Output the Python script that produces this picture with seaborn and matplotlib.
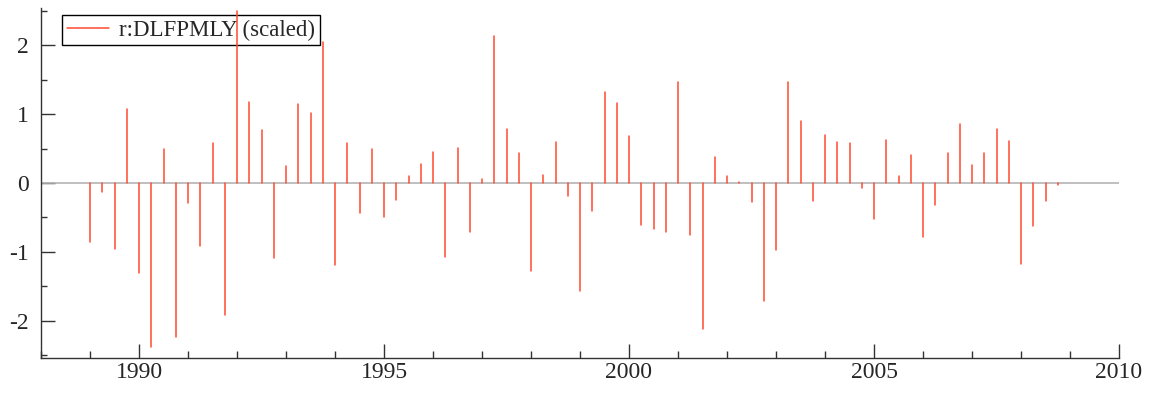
import numpy as np
import pandas as pd
import matplotlib
matplotlib.use("Agg")
import matplotlib.pyplot as plt
from matplotlib.lines import Line2D
from matplotlib.ticker import MultipleLocator
import seaborn as sns

# quarterly observations 1989Q1 .. 2008Q4
start_year = 1989
values = [
    -0.85, -0.125, -0.96, 1.08,    # 1989
    -1.31, -2.38, 0.49, -2.23,     # 1990
    -0.29, -0.91, 0.58, -1.92,     # 1991
    2.50, 1.17, 0.77, -1.09,       # 1992
    0.245, 1.14, 1.02, 2.04,       # 1993
    -1.19, 0.58, -0.43, 0.49,      # 1994
    -0.49, -0.245, 0.106, 0.27,    # 1995
    0.45, -1.07, 0.51, -0.71,      # 1996
    0.058, 2.13, 0.79, 0.44,       # 1997
    -1.27, 0.12, 0.59, -0.19,      # 1998
    -1.57, -0.40, 1.32, 1.16,      # 1999
    0.68, -0.61, -0.67, -0.71,     # 2000
    1.47, -0.76, -2.12, 0.375,     # 2001
    0.096, 0.01, -0.28, -1.71,     # 2002
    -0.97, 1.46, 0.90, -0.26,      # 2003
    0.69, 0.59, 0.58, -0.07,       # 2004
    -0.52, 0.63, 0.106, 0.41,      # 2005
    -0.78, -0.32, 0.44, 0.86,      # 2006
    0.255, 0.43, 0.78, 0.61,       # 2007
    -1.18, -0.63, -0.255, -0.03,   # 2008
]
series_label = "r:DLFPMLY (scaled)"
x_tick_labels = ["1990", "1995", "2000", "2005", "2010"]
y_tick_labels = ["-2", "-1", "0", "1", "2"]

dates = start_year + np.arange(len(values)) * 0.25

# long-form: each spike as a segment from 0 to the value
rows = []
for i, (d, v) in enumerate(zip(dates, values)):
    rows.append({"id": i, "date": d, "val": 0.0})
    rows.append({"id": i, "date": d, "val": v})
df = pd.DataFrame(rows)

sns.set_style("ticks")
plt.rcParams["font.family"] = ["Liberation Serif", "DejaVu Serif"]
plt.rcParams["axes.unicode_minus"] = False

fig = plt.figure(figsize=(11.57, 3.94), dpi=100)
ax = fig.add_axes([41 / 1157, 36 / 394, (1119 - 41) / 1157, 350 / 394])

red = "#ff4a2e"
ax.axhline(0, color="#b4b4b4", lw=1.2, zorder=1)
sns.lineplot(data=df, x="date", y="val", units="id", estimator=None,
             sort=False, color=red, lw=1.1, ax=ax, legend=False, zorder=3)

ax.set_xlim(1988, 2010)
ax.set_ylim(-2.54, 2.54)
ax.set_xticks([int(t) for t in x_tick_labels])
ax.set_xticklabels(x_tick_labels)
ax.xaxis.set_minor_locator(MultipleLocator(1))
ax.set_yticks([int(t) for t in y_tick_labels])
ax.set_yticklabels(y_tick_labels)
ax.yaxis.set_minor_locator(MultipleLocator(0.5))
ax.set_xlabel("")
ax.set_ylabel("")

for s in ["top", "right"]:
    ax.spines[s].set_visible(False)
for s in ["left", "bottom"]:
    ax.spines[s].set_color("#333333")
    ax.spines[s].set_linewidth(1.0)

ax.tick_params(axis="x", which="major", direction="in", length=10, width=1,
               color="#333333", labelsize=17, pad=3)
ax.tick_params(axis="x", which="minor", direction="in", length=5, width=1,
               color="#333333")
ax.tick_params(axis="y", which="major", direction="in", length=10, width=1,
               color="#333333", labelsize=17, pad=9)
ax.tick_params(axis="y", which="minor", direction="in", length=4, width=1,
               color="#333333")

handle = Line2D([], [], color=red, lw=1.1)
leg = ax.legend([handle], [series_label], loc="upper left",
                bbox_to_anchor=(0.0195, 0.98), fontsize=16.5, frameon=True,
                fancybox=False, handlelength=1.85, handletextpad=0.45,
                borderpad=0.2, borderaxespad=0, framealpha=1)
leg.get_frame().set_edgecolor("black")
leg.get_frame().set_linewidth(1.0)
leg.set_zorder(2)

fig.savefig("out.png", dpi=100)
